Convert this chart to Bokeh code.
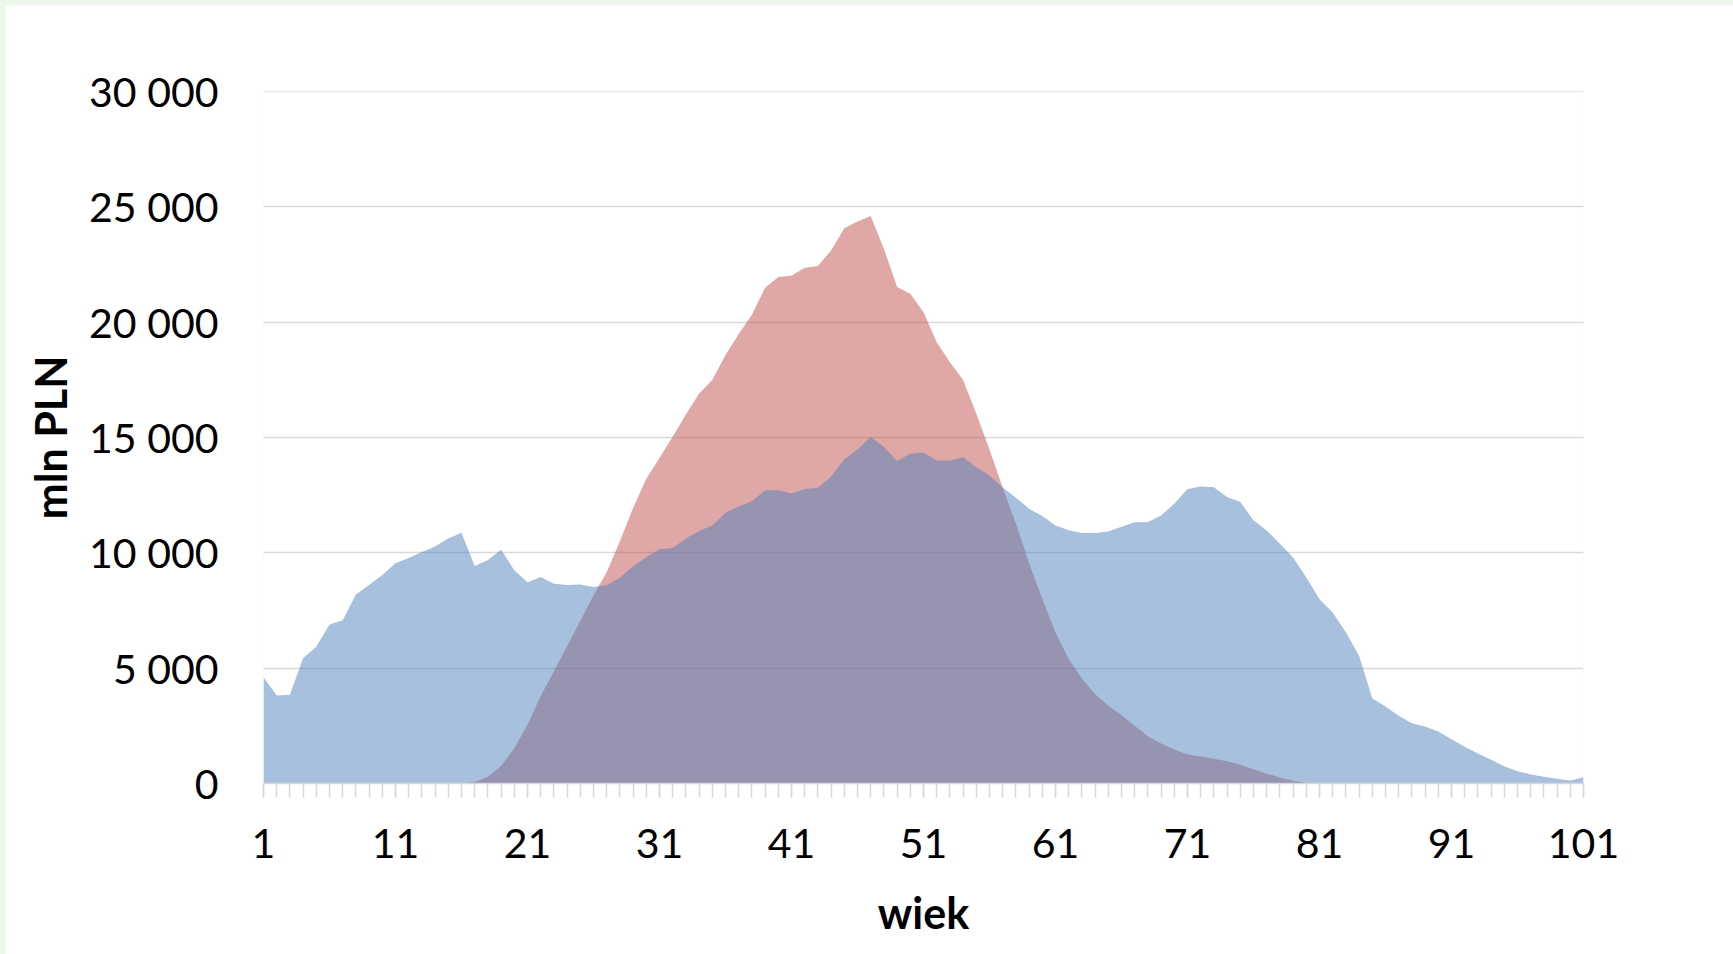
from bokeh.plotting import figure
from bokeh.models import Range1d, FixedTicker, Span
from bokeh.embed import file_html
from bokeh.resources import INLINE

ages = list(range(1, 102))

# Blue series (mln PLN)
blue_vals = [
    4605, 3814, 3849, 5430, 5928, 6890, 7079, 8196, 8608, 9038,
    9553, 9777, 10034, 10275, 10619, 10876, 9433, 9691, 10137, 9244,
    8729, 8952, 8660, 8608, 8625, 8522, 8591, 8918, 9416, 9811,
    10155, 10206, 10619, 10945, 11186, 11735, 12010, 12234, 12715, 12715,
    12577, 12766, 12818, 13299, 14055, 14485, 15034, 14588, 13986, 14296,
    14347, 14003, 14003, 14141, 13711, 13351, 12835, 12388, 11907, 11598,
    11186, 10979, 10859, 10859, 10928, 11134, 11323, 11340, 11615, 12131,
    12766, 12880, 12845, 12420, 12200, 11415, 10966, 10394, 9798, 8931,
    7991, 7413, 6546, 5535, 3685, 3338, 2934, 2616, 2471, 2254,
    1922, 1590, 1301, 1026, 751, 535, 390, 289, 202, 130,
    275,
]

# Red series (mln PLN)
red_vals = [
    0, 0, 0, 0, 0, 0, 0, 0, 0, 0,
    0, 0, 0, 0, 0, 0, 70, 292, 756, 1529,
    2543, 3797, 4863, 5945, 7045, 8162, 9158, 10498, 11942, 13213,
    14107, 15034, 15997, 16907, 17491, 18574, 19485, 20326, 21495, 21959,
    22010, 22354, 22440, 23110, 24072, 24364, 24605, 23179, 21529, 21237,
    20430, 19124, 18265, 17491, 16031, 14485, 12818, 11272, 9553, 8007,
    6546, 5395, 4553, 3883, 3368, 2973, 2509, 2045, 1735, 1478,
    1254, 1170, 1068, 960, 810, 614, 426, 262, 120, 30,
    0, 0, 0, 0, 0, 0, 0, 0, 0, 0,
    0, 0, 0, 0, 0, 0, 0, 0, 0, 0,
    0,
]

x_ticks = [1, 11, 21, 31, 41, 51, 61, 71, 81, 91, 101]
y_ticks = [0, 5000, 10000, 15000, 20000, 25000, 30000]
y_tick_labels = ["0", "5 000", "10 000", "15 000", "20 000", "25 000", "30 000"]
x_title = "wiek"
y_title = "mln PLN"

p = figure(
    width=1728, height=949,
    output_backend="svg", toolbar_location=None,
    x_range=Range1d(1, 101), y_range=Range1d(0, 30000),
    min_border_left=258, min_border_right=150,
    min_border_top=86, min_border_bottom=171,
)
p.outline_line_color = None
p.background_fill_color = "white"
p.border_fill_color = "white"

p.varea(x=ages, y1=[0] * len(ages), y2=red_vals, fill_color="#C0504D", fill_alpha=0.5)
p.varea(x=ages, y1=[0] * len(ages), y2=blue_vals, fill_color="#4F81BD", fill_alpha=0.5)

# grid
p.xgrid.visible = False
p.ygrid.ticker = FixedTicker(ticks=y_ticks)
p.ygrid.grid_line_color = "#d9d9d9"
p.ygrid.grid_line_width = 1.5
p.add_layout(Span(location=y_ticks[-1], dimension="width", line_color="#d9d9d9",
                  line_width=1.5, level="underlay"))

# x axis
xa = p.xaxis[0]
xa.ticker = FixedTicker(ticks=x_ticks, minor_ticks=ages)
xa.axis_line_color = "#d9d9d9"
xa.axis_line_width = 1.5
xa.major_tick_line_color = "#d9d9d9"
xa.minor_tick_line_color = "#d9d9d9"
xa.major_tick_line_width = 1.5
xa.minor_tick_line_width = 1.5
xa.major_tick_in = 0
xa.major_tick_out = 14
xa.minor_tick_in = 0
xa.minor_tick_out = 14
xa.major_label_standoff = 31
xa.major_label_text_font = "Lato"
xa.major_label_text_font_size = "41px"
xa.major_label_text_color = "black"
xa.axis_label = x_title
xa.axis_label_text_font = "Lato"
xa.axis_label_text_font_style = "bold"
xa.axis_label_text_font_size = "43px"
xa.axis_label_text_color = "black"
xa.axis_label_standoff = 26

# y axis
ya = p.yaxis[0]
ya.ticker = FixedTicker(ticks=y_ticks)
ya.major_label_overrides = {t: l for t, l in zip(y_ticks, y_tick_labels)}
ya.axis_line_color = None
ya.major_tick_line_color = None
ya.minor_tick_line_color = None
ya.major_tick_in = 0
ya.major_tick_out = 0
ya.major_label_standoff = 45
ya.major_label_text_font = "Lato"
ya.major_label_text_font_size = "41px"
ya.major_label_text_color = "black"
ya.axis_label = y_title
ya.axis_label_text_font = "Lato"
ya.axis_label_text_font_style = "bold"
ya.axis_label_text_font_size = "43px"
ya.axis_label_text_color = "black"
ya.axis_label_standoff = 10

html = file_html(p, INLINE)
style = "<style>html,body{margin:0 !important;padding:0 !important;overflow:hidden;background:#eef7ec !important;} body{padding:5px 0 0 5px !important;}</style></head>"
html = html.replace("</head>", style, 1)
open("out.html", "w").write(html)
